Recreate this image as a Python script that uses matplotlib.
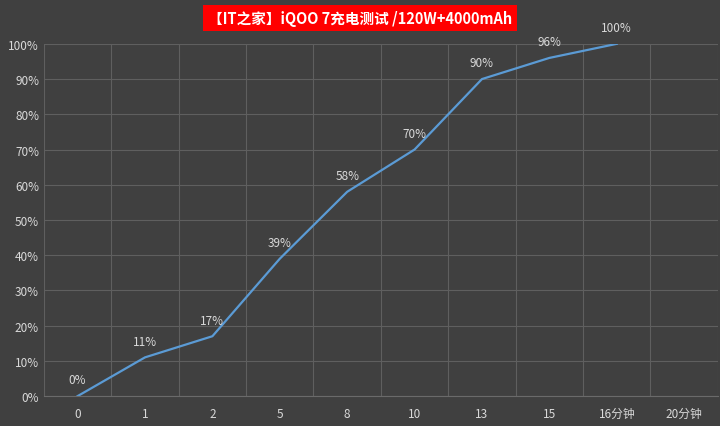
import matplotlib
matplotlib.use("Agg")
import matplotlib.pyplot as plt

plt.rcParams['font.family'] = ['Noto Sans CJK SC', 'DejaVu Sans']

categories = ['0', '1', '2', '5', '8', '10', '13', '15', '16分钟', '20分钟']
percent = [0, 11, 17, 39, 58, 70, 90, 96, 100]
yticks = [0, 10, 20, 30, 40, 50, 60, 70, 80, 90, 100]

bg = '#404040'
fig = plt.figure(figsize=(7.2, 4.27), dpi=100, facecolor=bg)
ax = fig.add_axes([0.061, 0.07, 0.936, 0.825], facecolor=bg)

x = list(range(len(percent)))
ax.plot(x, percent, color='#5b9bd5', lw=1.6)
for xi, p in zip(x, percent):
    ax.annotate(f'{p}%', (xi, p), xytext=(0, 7), textcoords='offset points',
                ha='center', va='bottom', color='#d9d9d9', fontsize=8.5)

ax.set_xlim(-0.5, len(categories) - 0.5)
ax.set_ylim(0, 100)
ax.set_xticks(range(len(categories)))
ax.set_xticklabels(categories)
ax.set_xticks([i - 0.5 for i in range(len(categories) + 1)], minor=True)
ax.set_yticks(yticks)
ax.set_yticklabels([f'{v}%' for v in yticks])
ax.grid(axis='y', color='#5f5f5f', lw=0.8)
ax.grid(axis='x', which='minor', color='#5f5f5f', lw=0.8)
ax.tick_params(which='both', length=0, colors='#d9d9d9', labelsize=8.5)
ax.tick_params(axis='x', pad=8)
for s in ax.spines.values():
    s.set_visible(False)
ax.spines['bottom'].set_visible(True)
ax.spines['bottom'].set_color('#6a6a6a')

fig.text(0.5, 0.955, '【IT之家】iQOO 7充电测试 /120W+4000mAh', ha='center', va='center',
         color='white', fontsize=10.5, fontweight='bold',
         bbox=dict(boxstyle='square,pad=0.35', fc='#ff0000', ec='none'))

fig.savefig('out.png', dpi=100, facecolor=bg)
